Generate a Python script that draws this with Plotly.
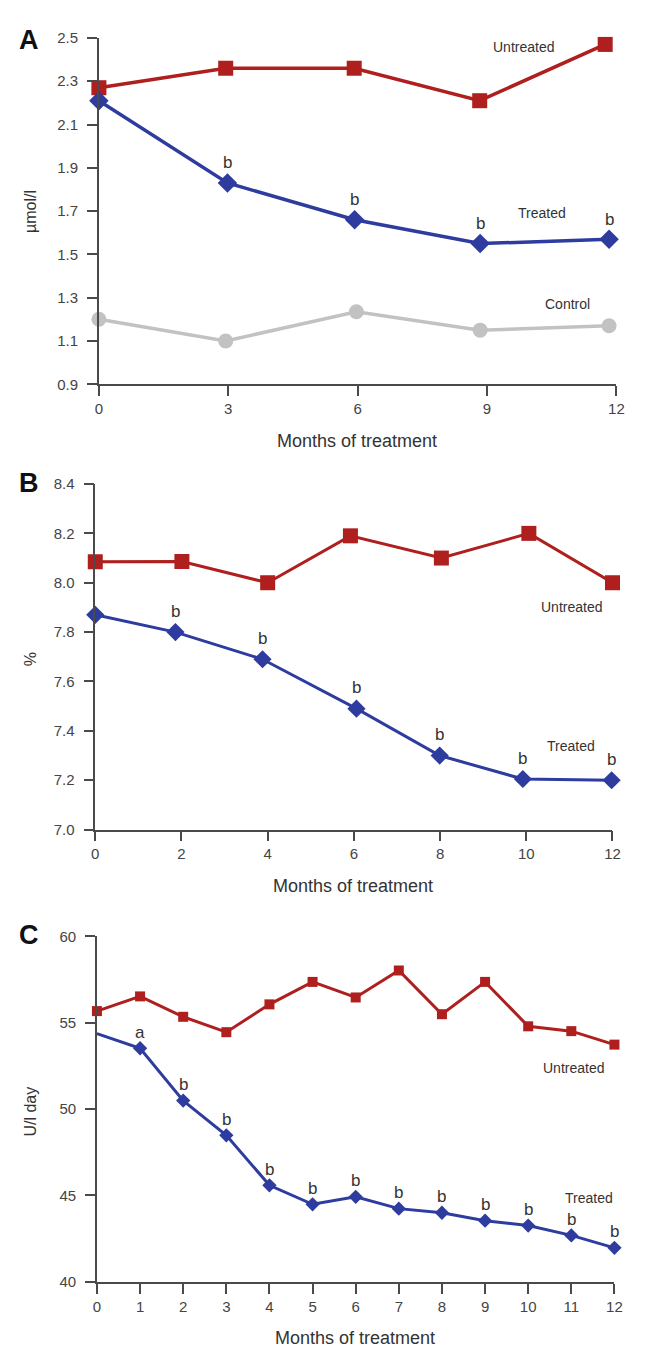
import plotly.graph_objects as go

# ---------------- Data ----------------
# Panel A (µmol/l)
a_x_untreated = [0, 2.94, 5.92, 8.83, 11.74]
a_untreated = [2.27, 2.36, 2.36, 2.21, 2.47]
a_x_treated = [0, 2.98, 5.93, 8.84, 11.83]
a_treated = [2.21, 1.83, 1.66, 1.55, 1.57]
a_treated_sig = ["", "b", "b", "b", "b"]
a_x_control = [0, 2.94, 5.97, 8.84, 11.83]
a_control = [1.20, 1.10, 1.235, 1.15, 1.17]
a_xticks = [0, 3, 6, 9, 12]
a_yticks = [0.9, 1.1, 1.3, 1.5, 1.7, 1.9, 2.1, 2.3, 2.5]

# Panel B (%)
b_x_untreated = [0, 2.01, 4.0, 5.92, 8.03, 10.06, 12]
b_untreated = [8.085, 8.086, 8.0, 8.19, 8.10, 8.20, 8.0]
b_x_treated = [0, 1.86, 3.88, 6.06, 7.99, 9.92, 11.98]
b_treated = [7.87, 7.80, 7.69, 7.49, 7.30, 7.205, 7.20]
b_treated_sig = ["", "b", "b", "b", "b", "b", "b"]
b_xticks = [0, 2, 4, 6, 8, 10, 12]
b_yticks = [7.0, 7.2, 7.4, 7.6, 7.8, 8.0, 8.2, 8.4]

# Panel C (U/l day)
c_months = [0, 1, 2, 3, 4, 5, 6, 7, 8, 9, 10, 11, 12]
c_untreated = [55.67, 56.52, 55.34, 54.45, 56.06, 57.36, 56.46, 58.02, 55.49, 57.36, 54.79, 54.51, 53.73]
c_treated = [54.37, 53.52, 50.49, 48.48, 45.59, 44.49, 44.92, 44.24, 44.0, 43.54, 43.26, 42.69, 41.97]
c_treated_sig = ["", "a", "b", "b", "b", "b", "b", "b", "b", "b", "b", "b", "b"]
c_xticks = c_months
c_yticks = [40, 45, 50, 55, 60]

x_title = "Months of treatment"

# ---------------- Style ----------------
W, H = 646, 1361
RED = "#AE1F1E"
BLUE = "#2D3C9E"
GRAY = "#C2C2C2"
AX = "#4a4a4a"
TXT = "#333333"
FONT = "Liberation Sans, Arial, sans-serif"


def px(x):
    return x / W


def py(y):
    return 1 - y / H


fig = go.Figure()

# Panel A traces
fig.add_trace(go.Scatter(x=a_x_untreated, y=a_untreated, mode="lines+markers",
                         line=dict(color=RED, width=3.5),
                         marker=dict(symbol="square", size=15, color=RED),
                         cliponaxis=False, xaxis="x", yaxis="y"))
fig.add_trace(go.Scatter(x=a_x_control, y=a_control, mode="lines+markers",
                         line=dict(color=GRAY, width=3.5),
                         marker=dict(symbol="circle", size=15, color=GRAY),
                         cliponaxis=False, xaxis="x", yaxis="y"))
fig.add_trace(go.Scatter(x=a_x_treated, y=a_treated, mode="lines+markers",
                         line=dict(color=BLUE, width=3.5),
                         marker=dict(symbol="diamond", size=15, color=BLUE),
                         cliponaxis=False, xaxis="x", yaxis="y"))

# Panel B traces
fig.add_trace(go.Scatter(x=b_x_untreated, y=b_untreated, mode="lines+markers",
                         line=dict(color=RED, width=3),
                         marker=dict(symbol="square", size=15, color=RED),
                         cliponaxis=False, xaxis="x2", yaxis="y2"))
fig.add_trace(go.Scatter(x=b_x_treated, y=b_treated, mode="lines+markers",
                         line=dict(color=BLUE, width=3),
                         marker=dict(symbol="diamond", size=14, color=BLUE),
                         cliponaxis=False, xaxis="x2", yaxis="y2"))

# Panel C traces
fig.add_trace(go.Scatter(x=c_months, y=c_untreated, mode="lines+markers",
                         line=dict(color=RED, width=3),
                         marker=dict(symbol="square", size=10, color=RED),
                         cliponaxis=False, xaxis="x3", yaxis="y3"))
# treated line (baseline at month 0 has no marker)
fig.add_trace(go.Scatter(x=c_months, y=c_treated, mode="lines",
                         line=dict(color=BLUE, width=3),
                         cliponaxis=False, xaxis="x3", yaxis="y3"))
fig.add_trace(go.Scatter(x=c_months[1:], y=c_treated[1:], mode="markers",
                         marker=dict(symbol="diamond", size=11, color=BLUE),
                         cliponaxis=False, xaxis="x3", yaxis="y3"))

annotations = []


def sig_labels(xs, ys, labels, xref, yref, shift, size):
    for xv, yv, t in zip(xs, ys, labels):
        if t:
            annotations.append(dict(x=xv, y=yv, xref=xref, yref=yref, text=t,
                                    showarrow=False, yshift=shift, yanchor="middle",
                                    font=dict(size=size, color=TXT, family=FONT)))


sig_labels(a_x_treated, a_treated, a_treated_sig, "x", "y", 20, 17)
sig_labels(b_x_treated, b_treated, b_treated_sig, "x2", "y2", 21, 17)
sig_labels(c_months, c_treated, c_treated_sig, "x3", "y3", 16, 17)


def series_label(text, xv, yv, xref, yref):
    annotations.append(dict(x=xv, y=yv, xref=xref, yref=yref, text=text, showarrow=False,
                            xanchor="center", yanchor="middle",
                            font=dict(size=14, color=TXT, family=FONT)))


series_label("Untreated", 9.84, 2.456, "x", "y")
series_label("Treated", 10.27, 1.689, "x", "y")
series_label("Control", 10.86, 1.270, "x", "y")
series_label("Untreated", 11.06, 7.901, "x2", "y2")
series_label("Treated", 11.04, 7.34, "x2", "y2")
series_label("Untreated", 11.06, 52.38, "x3", "y3")
series_label("Treated", 11.41, 44.86, "x3", "y3")

# Panel letters
for letter, yc in [("A", 31), ("B", 480), ("C", 938)]:
    annotations.append(dict(x=px(25), y=py(yc), xref="paper", yref="paper", text="<b>%s</b>" % letter,
                            showarrow=False, xanchor="center", yanchor="middle",
                            font=dict(size=27, color="#111111", family=FONT)))

# Y titles
for t, yc in [("µmol/l", 205), ("%", 658), ("U/l day", 1116)]:
    annotations.append(dict(x=px(27), y=py(yc), xref="paper", yref="paper", text=t,
                            showarrow=False, textangle=-90, xanchor="center", yanchor="middle",
                            font=dict(size=16, color=TXT, family=FONT)))

# X titles
for xc, yc in [(360, 437), (356, 888), (358, 1346)]:
    annotations.append(dict(x=px(xc), y=py(yc), xref="paper", yref="paper", text=x_title,
                            showarrow=False, xanchor="center", yanchor="middle",
                            font=dict(size=18, color=TXT, family=FONT)))


def xaxis(dom, ticks, anchor):
    return dict(domain=dom, range=[0, 12], tickmode="array", tickvals=ticks,
                ticktext=[str(t) for t in ticks], showline=True, linecolor=AX, linewidth=1.5,
                ticks="outside", ticklen=10, tickwidth=1.5, tickcolor=AX,
                showgrid=False, zeroline=False, anchor=anchor,
                tickfont=dict(size=15, color="#444444", family=FONT))


def yaxis(dom, ticks, rng, fmt, anchor):
    return dict(domain=dom, range=rng, tickmode="array", tickvals=ticks,
                ticktext=[fmt % t for t in ticks], showline=True, linecolor=AX, linewidth=1.5,
                ticks="outside", ticklen=10, tickwidth=1.5, tickcolor=AX,
                showgrid=False, zeroline=False, anchor=anchor, ticklabelstandoff=6,
                tickfont=dict(size=15, color="#444444", family=FONT))


fig.update_layout(
    width=W, height=H,
    margin=dict(l=0, r=0, t=0, b=0),
    paper_bgcolor="white", plot_bgcolor="white",
    showlegend=False,
    hovermode=False,
    font=dict(family=FONT, color=TXT),
    xaxis=xaxis([px(96.7), px(624)], a_xticks, "y"),
    yaxis=yaxis([py(380), py(29.3)], a_yticks, [0.9, 2.5], "%.1f", "x"),
    xaxis2=xaxis([px(93), px(620)], b_xticks, "y2"),
    yaxis2=yaxis([py(831), py(481)], b_yticks, [7.0, 8.4], "%.1f", "x2"),
    xaxis3=xaxis([px(94.7), px(622)], c_xticks, "y3"),
    yaxis3=yaxis([py(1289), py(939)], c_yticks, [40, 60], "%d", "x3"),
    annotations=annotations,
)

fig.write_html("out.html", config={"displayModeBar": False},
               post_script="document.body.style.margin='0';document.body.style.overflow='hidden';")
